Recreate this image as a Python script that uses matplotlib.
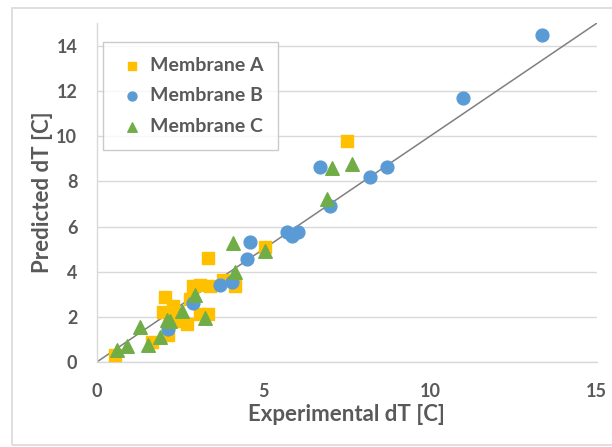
"""Predicted vs experimental dT for three membranes, parity plot."""
import matplotlib
matplotlib.use("Agg")
import matplotlib.pyplot as plt
from matplotlib.patches import Rectangle

# --- data ---
a_exp = [0.55, 1.65, 2.15, 2.0, 2.2, 2.05, 2.3, 2.45, 2.7, 2.8, 2.9, 3.1, 3.4,
         3.1, 3.35, 3.35, 3.8, 4.15, 5.05, 7.5]
a_pred = [0.3, 0.9, 1.2, 2.2, 2.15, 2.9, 2.5, 1.8, 1.7, 2.8, 3.35, 3.4, 3.35,
          2.15, 2.15, 4.6, 3.65, 3.35, 5.1, 9.8]

b_exp = [2.15, 2.9, 3.7, 4.05, 4.5, 4.6, 5.7, 5.85, 6.05, 6.7, 7.0, 8.2, 8.7,
         11.0, 13.35]
b_pred = [1.45, 2.6, 3.4, 3.55, 4.55, 5.3, 5.75, 5.6, 5.75, 8.65, 6.9, 8.2, 8.65,
          11.7, 14.5]

c_exp = [0.6, 0.9, 1.3, 1.55, 1.9, 2.1, 2.2, 2.55, 2.95, 3.25, 4.1, 4.15, 5.05,
         6.9, 7.05, 7.65]
c_pred = [0.55, 0.7, 1.55, 0.75, 1.1, 1.85, 1.8, 2.25, 2.95, 1.95, 5.25, 4.0, 4.9,
          7.2, 8.6, 8.75]

parity = [0, 15]
x_ticks = [0, 5, 10, 15]
y_ticks = [0, 2, 4, 6, 8, 10, 12, 14]

plt.rcParams["font.family"] = ["Lato", "DejaVu Sans"]
plt.rcParams["font.weight"] = "bold"
TXT = "#595959"

fig = plt.figure(figsize=(6.12, 4.47), dpi=100)
ax = fig.add_axes([0.158, 0.190, 0.817, 0.758])

# outer chart border (Excel-style chart area)
fig.patches.append(Rectangle((12 / 612, 2 / 447), 1.2, 437 / 447,
                             transform=fig.transFigure, fill=False,
                             edgecolor="#d9d9d9", linewidth=1.2))

ax.plot(parity, parity, color="#7f7f7f", linewidth=1.1, zorder=2)

ax.scatter(a_exp, a_pred, marker="s", s=75, color="#FFC000", label="Membrane A", zorder=3)
ax.scatter(b_exp, b_pred, marker="o", s=85, color="#5B9BD5", label="Membrane B", zorder=3)
ax.scatter(c_exp, c_pred, marker="^", s=95, color="#70AD47", label="Membrane C", zorder=3)

ax.set_xlim(0, 15)
ax.set_ylim(0, 15)
ax.set_xticks(x_ticks)
ax.set_yticks(y_ticks)
ax.grid(axis="y", color="#d9d9d9", linewidth=1)
ax.set_axisbelow(True)
for side in ("top", "right"):
    ax.spines[side].set_visible(False)
for side in ("left", "bottom"):
    ax.spines[side].set_color("#d9d9d9")
    ax.spines[side].set_linewidth(1)
ax.tick_params(length=0, labelsize=13, labelcolor=TXT)
ax.tick_params(axis="x", pad=15)
ax.tick_params(axis="y", pad=14)
for lbl in ax.get_xticklabels() + ax.get_yticklabels():
    lbl.set_fontweight("bold")

ax.set_xlabel("Experimental dT [C]", fontsize=16, fontweight="bold", color=TXT, labelpad=3)
ax.set_ylabel("Predicted dT [C]", fontsize=16, fontweight="bold", color=TXT, labelpad=2)

leg = ax.legend(loc="upper left", bbox_to_anchor=(0.012, 0.944), fancybox=False,
                edgecolor="#bfbfbf", handletextpad=0.2, borderpad=0.75,
                labelspacing=0.7, markerscale=0.7, handlelength=1.5,
                borderaxespad=0, fontsize=14)
for t in leg.get_texts():
    t.set_color(TXT)
    t.set_fontweight("bold")

fig.savefig("out.png", dpi=100)
